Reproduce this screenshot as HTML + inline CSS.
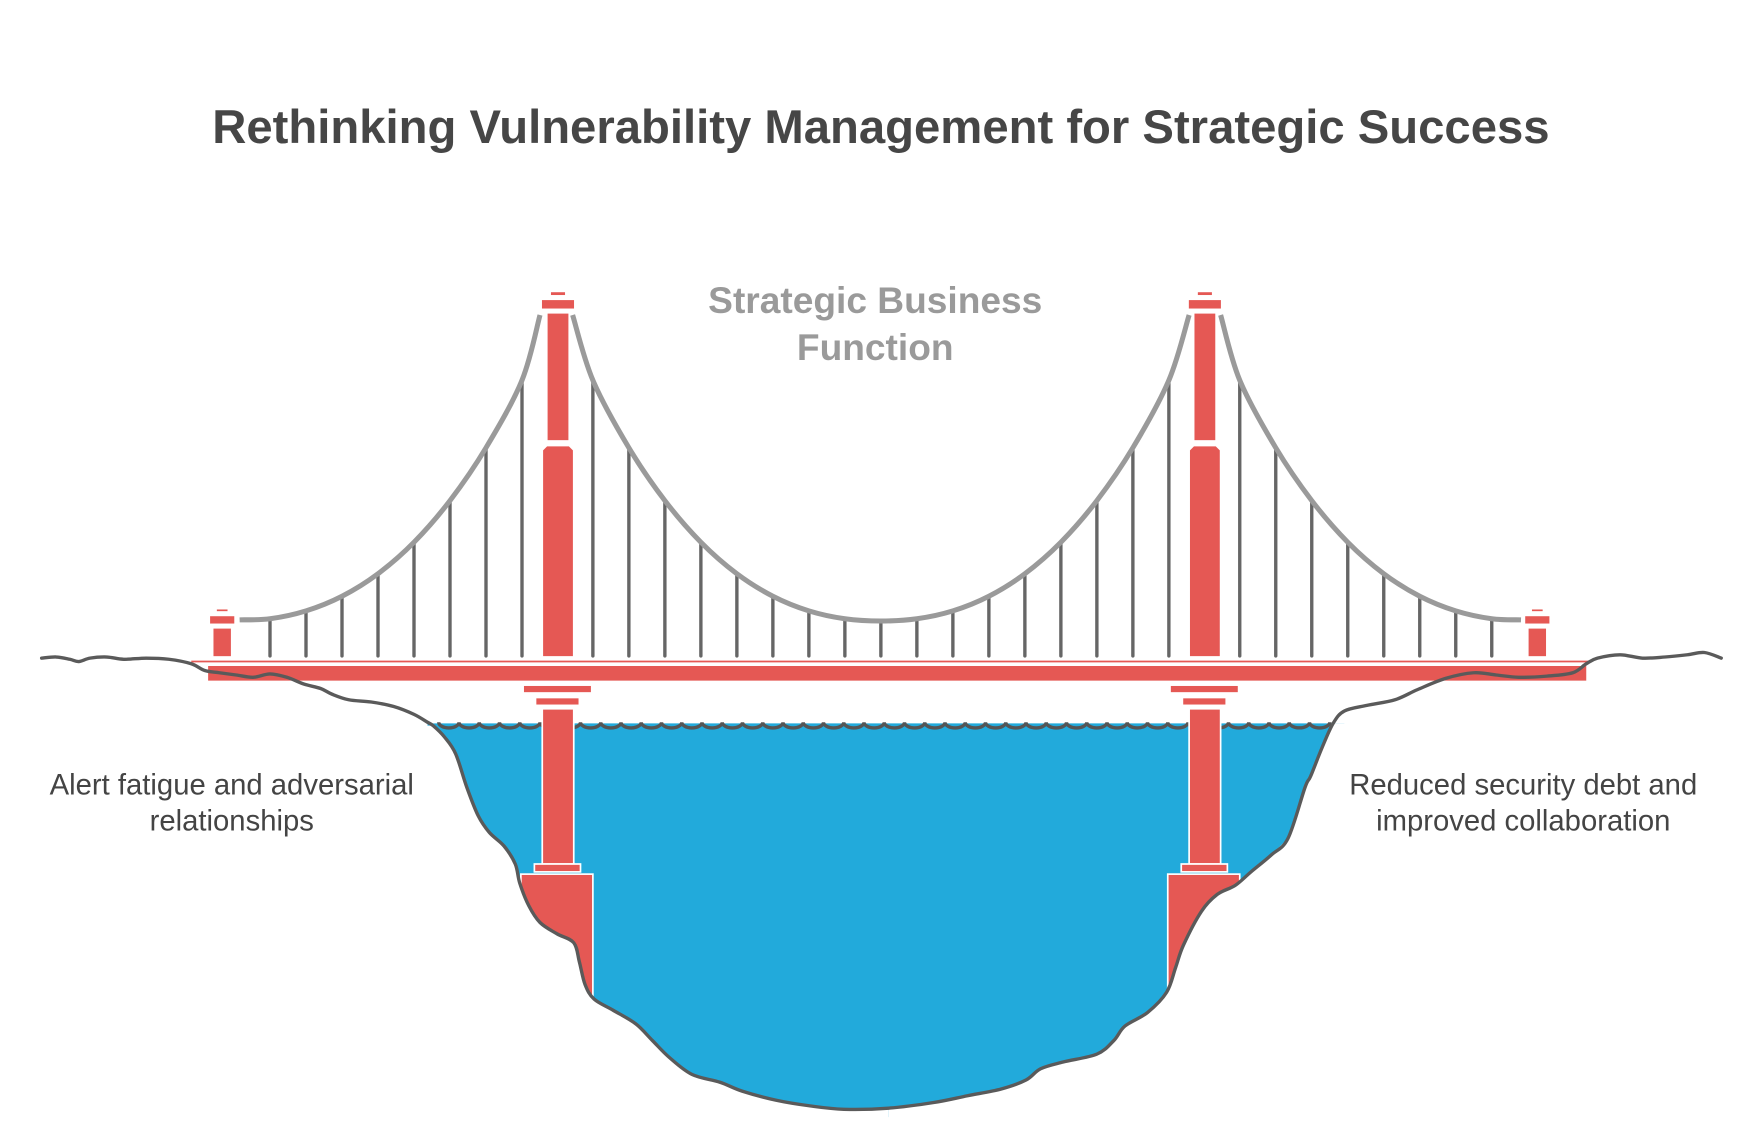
<!DOCTYPE html>
<html><head><meta charset="utf-8"><style>
html,body{margin:0;padding:0;background:#fff;}
svg{display:block;}
</style></head><body>
<svg id="s" xmlns="http://www.w3.org/2000/svg" width="1764" height="1130" viewBox="0 0 1568 1004.44" preserveAspectRatio="none">
<rect width="1568" height="1004.44" fill="#fff"/>
<text x="783" y="127" text-anchor="middle" font-family="Liberation Sans, sans-serif" font-weight="bold" font-size="42" fill="#464646">Rethinking Vulnerability Management for Strategic Success</text>
<g id="g"></g>
<text font-family="Liberation Sans, sans-serif" font-weight="bold" font-size="33" fill="#9a9a9a" text-anchor="middle"><tspan x="778" y="278">Strategic Business</tspan><tspan x="778" y="320">Function</tspan></text>
<text font-family="Liberation Sans, sans-serif" font-size="26" fill="#444" text-anchor="middle"><tspan x="206" y="706">Alert fatigue and adversarial</tspan><tspan x="206" y="738">relationships</tspan></text>
<text font-family="Liberation Sans, sans-serif" font-size="26" fill="#444" text-anchor="middle"><tspan x="1354" y="706">Reduced security debt and</tspan><tspan x="1354" y="738">improved collaboration</tspan></text>
</svg>
<script>
var R="#e55854",out="";
function rect(x,y,w,h){out+='<rect x="'+x+'" y="'+y+'" width="'+w+'" height="'+h+'" fill="'+R+'" stroke="#fff" stroke-width="1.5"/>';}
var terrL=[[385,645],[395,655],[405,670],[415,700],[425,725],[435,740],[448,752],[458,768],[462,785],[470,805],[480,820],[495,830],[510,838],[515,855],[520,875],[528,888],[545,898],[565,910],[580,925],[595,940],[615,955],[640,962],[660,970],[690,978],[720,983],[750,986],[790,985]];
var terrR=[[790,985],[830,980],[860,974],[890,968],[912,960],[925,950],[945,944],[975,937],[990,925],[1000,912],[1020,900],[1037,882],[1045,860],[1052,840],[1068,810],[1082,795],[1098,787],[1112,775],[1130,760],[1145,745],[1160,700],[1165,690],[1175,665],[1185,643]];
var top1=[[37,585],[50,584],[62,586],[70,588],[80,585],[95,584],[110,586],[130,585],[150,586],[170,590],[182,596],[195,598],[210,600],[225,602],[240,599],[255,602],[270,608],[285,612],[295,617],[310,622],[330,624],[350,628],[368,635],[380,642]];
var top2=[[1195,632],[1215,627],[1240,622],[1260,613],[1285,603],[1310,598],[1330,600],[1350,602],[1375,601],[1398,598],[1410,590],[1420,585],[1440,582],[1460,585],[1480,584],[1500,582],[1515,580],[1530,585]];
function pts(a){return a.map(function(p){return p[0]+','+p[1]}).join(' ');}
function smooth(a){var d='M'+a[0][0]+','+a[0][1];for(var i=0;i<a.length-1;i++){var p0=a[i-1]||a[i],p1=a[i],p2=a[i+1],p3=a[i+2]||p2;
d+=' C'+(p1[0]+(p2[0]-p0[0])/6)+','+(p1[1]+(p2[1]-p0[1])/6)+' '+(p2[0]-(p3[0]-p1[0])/6)+','+(p2[1]-(p3[1]-p1[1])/6)+' '+p2[0]+','+p2[1];}return d;}
out+='<rect x="380" y="643" width="815" height="350" fill="#22aadb"/>';
var w='M390,642';for(var x=390;x<1180;x+=18){w+=' a9,5 0 0 0 18,0';}
out+='<path d="'+w+'" fill="none" stroke="#555" stroke-width="3"/>';
[0,575].forEach(function(o){
 rect(465+o,609,61,7);rect(476+o,620,39,7);rect(482+o,630,28,138);rect(475+o,768,41,7);rect(463+o,777,64,130);
});
out+='<polygon points="'+pts(terrL)+' 790,1004.44 0,1004.44 0,645" fill="#fff"/>';
out+='<polygon points="'+pts(terrR)+' 1568,643 1568,1004.44 790,1004.44" fill="#fff"/>';
out+='<line x1="170" y1="588" x2="1415" y2="588" stroke="'+R+'" stroke-width="1.5"/>';
out+='<rect x="185" y="592" width="1225" height="13" fill="'+R+'"/>';
out+='<path d="'+smooth(top1.concat(terrL,terrR.slice(1),top2))+'" fill="none" stroke="#5a5a5a" stroke-width="3" stroke-linejoin="round" stroke-linecap="round"/>';
var tops=[338,398,445,482,510,530,543,550];
var L=[],M=[],Rr=[];
L.push([213,551]);
for(var i=7;i>=0;i--){L.push([464-32*i,tops[i]]);}
L.push([480,280]);
M.push([509,280]);
for(var i=0;i<8;i++)M.push([527+32*i,tops[i]]);
M.push([783,552]);
for(var i=7;i>=0;i--)M.push([1039-32*i,tops[i]]);
M.push([1057,280]);
Rr.push([1085,280]);
for(var i=0;i<8;i++)Rr.push([1102+32*i,tops[i]]);
Rr.push([1352,551]);
[L,M,Rr].forEach(function(a){a.forEach(function(p,j){if(j>0&&j<a.length-1)out+='<line x1="'+p[0]+'" y1="'+(p[1]+1)+'" x2="'+p[0]+'" y2="583" stroke="#666" stroke-width="3" stroke-linecap="round"/>';});});
[L,M,Rr].forEach(function(a){out+='<path d="'+smooth(a)+'" fill="none" stroke="#9a9a9a" stroke-width="4.5"/>';});
[0,575].forEach(function(o){
 rect(489+o,259,14,4);rect(481+o,266,30,9);rect(486+o,278,20,114);
 out+='<path d="M'+(486+o)+',396 L'+(506+o)+',396 L'+(510+o)+',400 L'+(510+o)+',584 L'+(482+o)+',584 L'+(482+o)+',400 Z" fill="'+R+'" stroke="#fff" stroke-width="1.5"/>';
});
[0,1169].forEach(function(o){
 rect(192+o,541,11,3);rect(186+o,547,23,8);rect(189+o,558,17,26);
});
document.getElementById('g').innerHTML=out;
</script>
</body></html>
